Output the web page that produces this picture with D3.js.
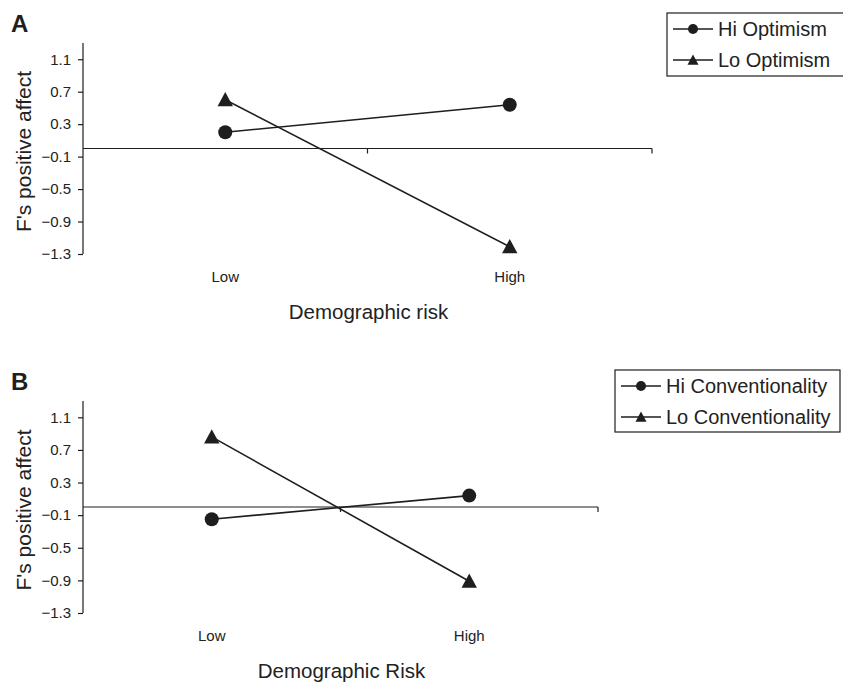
<!DOCTYPE html>
<html>
<head>
<meta charset="utf-8">
<script src="https://cdn.jsdelivr.net/npm/d3@7"></script>
<style>
  html, body { margin: 0; padding: 0; background: #fff; overflow: hidden; }
  svg { display: block; font-family: "Liberation Sans", Arial, sans-serif; }
</style>
</head>
<body>
<svg id="chart" width="843" height="686"></svg>
<script>
// Categories on the x axis
const categories = ["Low", "High"];

// Y-axis tick values (shared by both panels)
const yTickValues = [-1.3, -0.9, -0.5, -0.1, 0.3, 0.7, 1.1];

// Panel A: father's positive affect by optimism
const hiOptimism = [0.20, 0.54];
const loOptimism = [0.60, -1.21];

// Panel B: father's positive affect by conventionality
const hiConventionality = [-0.15, 0.14];
const loConventionality = [0.86, -0.91];

const panels = [
  {
    letter: "A", top: 43, bottom: 254, xEnd: 652,
    xTitle: "Demographic risk",
    series: [
      { name: "Hi Optimism", values: hiOptimism, marker: "circle" },
      { name: "Lo Optimism", values: loOptimism, marker: "triangle" }
    ],
    legend: { x: 667, y: 13, w: 200, h: 63 }
  },
  {
    letter: "B", top: 401, bottom: 613, xEnd: 598,
    xTitle: "Demographic Risk",
    series: [
      { name: "Hi Conventionality", values: hiConventionality, marker: "circle" },
      { name: "Lo Conventionality", values: loConventionality, marker: "triangle" }
    ],
    legend: { x: 615, y: 370, w: 225, h: 62 }
  }
];

const svg = d3.select("#chart");
const ink = "#1e1e1e";
const axisLeft = 83;

function drawMarker(g, type, x, y, size) {
  if (type === "circle") {
    g.append("circle").attr("cx", x).attr("cy", y).attr("r", size).attr("fill", ink);
  } else {
    const s = size * 1.1;
    g.append("path")
      .attr("d", `M${x},${y - s}L${x + s},${y + s * 0.85}L${x - s},${y + s * 0.85}Z`)
      .attr("fill", ink);
  }
}

panels.forEach(p => {
  const g = svg.append("g");

  const y = d3.scaleLinear().domain([-1.3, 1.3]).range([p.bottom, p.top]);
  const x = d3.scaleBand().domain(categories).range([axisLeft, p.xEnd]);

  // Panel letter
  g.append("text").attr("x", 11).attr("y", p.top - 11)
    .attr("font-size", 24).attr("font-weight", "bold").attr("fill", ink)
    .text(p.letter);

  // Y axis
  const yAxis = d3.axisLeft(y).tickValues(yTickValues).tickSize(5).tickPadding(7)
    .tickFormat(d3.format(".1f"));
  const ya = g.append("g").attr("transform", `translate(${axisLeft},0)`).call(yAxis);
  ya.select(".domain").attr("d", `M0,${y(1.3)}V${y(-1.3)}`).attr("stroke", ink).attr("stroke-width", 1.2);
  ya.selectAll(".tick line").attr("stroke", ink).attr("stroke-width", 1.2);
  ya.selectAll(".tick text").attr("font-size", 15).attr("fill", "#222")
    .attr("font-family", "Liberation Sans, Arial, sans-serif");

  // X axis crossing at zero
  const y0 = y(0);
  g.append("line").attr("x1", axisLeft).attr("x2", p.xEnd).attr("y1", y0).attr("y2", y0)
    .attr("stroke", ink).attr("stroke-width", 1.2);
  // category boundary ticks
  const bounds = categories.map(c => x(c) + x.bandwidth());
  g.selectAll(".xtick").data(bounds).enter().append("line")
    .attr("x1", d => d).attr("x2", d => d).attr("y1", y0).attr("y2", y0 + 5)
    .attr("stroke", ink).attr("stroke-width", 1.2);

  // Category labels below the plot
  g.selectAll(".cat").data(categories).enter().append("text")
    .attr("x", d => x(d) + x.bandwidth() / 2).attr("y", p.bottom + 28)
    .attr("text-anchor", "middle").attr("font-size", 15).attr("fill", "#222")
    .text(d => d);

  // X title
  g.append("text").attr("x", (axisLeft + p.xEnd) / 2 + 1)
    .attr("y", p.bottom + 65)
    .attr("text-anchor", "middle").attr("font-size", 20.5).attr("fill", "#222")
    .text(p.xTitle);

  // Y title
  g.append("text")
    .attr("transform", `translate(31,${(p.top + p.bottom) / 2 + 3}) rotate(-90)`)
    .attr("text-anchor", "middle").attr("font-size", 21).attr("fill", "#222")
    .text("F's positive affect");

  // Series lines and markers
  const line = d3.line().x((d, i) => x(categories[i]) + x.bandwidth() / 2).y(d => y(d));
  p.series.forEach(s => {
    g.append("path").attr("d", line(s.values)).attr("fill", "none")
      .attr("stroke", ink).attr("stroke-width", 1.6);
    s.values.forEach((v, i) => {
      drawMarker(g, s.marker, x(categories[i]) + x.bandwidth() / 2, y(v), 7);
    });
  });

  // Legend
  const L = p.legend;
  const lg = g.append("g");
  lg.append("rect").attr("x", L.x).attr("y", L.y).attr("width", L.w).attr("height", L.h)
    .attr("fill", "#fff").attr("stroke", ink).attr("stroke-width", 1.2);
  p.series.forEach((s, i) => {
    const cy = L.y + 16 + i * 31;
    lg.append("line").attr("x1", L.x + 6).attr("x2", L.x + 46).attr("y1", cy).attr("y2", cy)
      .attr("stroke", ink).attr("stroke-width", 1.6);
    drawMarker(lg, s.marker, L.x + 26, cy, 5);
    lg.append("text").attr("x", L.x + 51).attr("y", cy + 7)
      .attr("font-size", 20).attr("fill", "#222").text(s.name);
  });
});
</script>
</body>
</html>
